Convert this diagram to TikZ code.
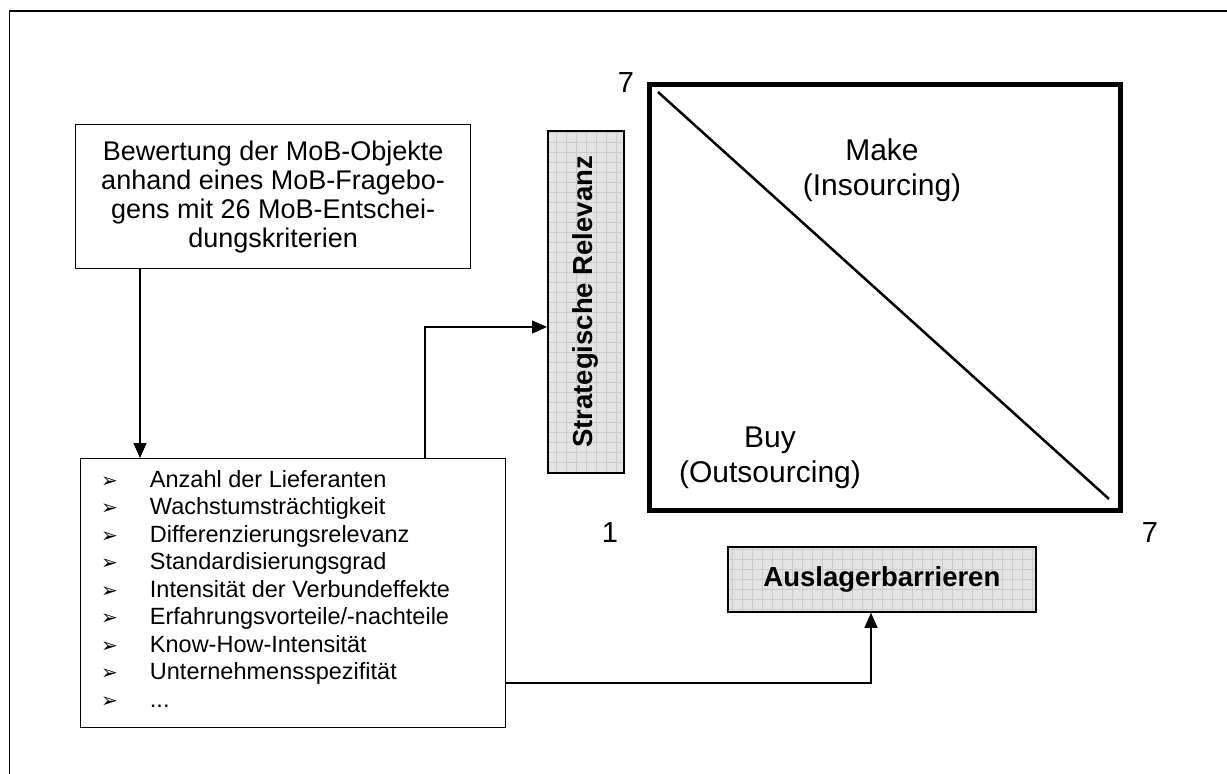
\documentclass[tikz,border=0pt]{standalone}
\usepackage{fontspec}
\setmainfont{Liberation Sans}
\newfontfamily\dejavu{DejaVu Sans}
\usetikzlibrary{arrows.meta}
\tikzset{
  box/.style={draw=black, line width=1.2pt, fill=white, inner sep=0pt, anchor=north west},
  graybox/.style={draw=black, line width=1.8pt, fill=gray!22, inner sep=0pt, anchor=north west,
    path picture={\draw[gray!40, line width=0.5pt, step=10pt] (path picture bounding box.south west) grid (path picture bounding box.north east);}},
  conn/.style={draw=black, line width=1.2pt, -{Triangle[length=15pt,width=13pt]}},
  lbl/.style={inner sep=0pt, font=\fontsize{29}{35}\selectfont},
  bold/.style={inner sep=0pt, font=\bfseries\fontsize{27.5}{32}\selectfont},
}
\newcommand{\bl}{{\dejavu\fontsize{20}{27.5}\selectfont ➢}}
\begin{document}
\begin{tikzpicture}[x=1pt,y=-1pt]
\useasboundingbox (0,0) rectangle (1227,774);
% frame
\coordinate (fbl) at (9.5,774);
\coordinate (ftl) at (9.5,11);
\coordinate (ftr) at (1227,11);
\draw[line width=1.5pt] (fbl) -- (ftl) -- (ftr);
% top-left box
\node[box, minimum width=395pt, minimum height=144pt] (top) at (75,124) {};
\node[inner sep=0pt, align=center, font=\fontsize{27}{29}\selectfont] (toptxt) at (top.center)
  {Bewertung der MoB-Objekte\\anhand eines MoB-Fragebo-\\gens mit 26 MoB-Entschei-\\dungskriterien};
% bottom-left box
\node[box, minimum width=425pt, minimum height=269pt] (list) at (80,458) {};
\node[inner sep=0pt, anchor=north west, font=\fontsize{23.5}{27.5}\selectfont] (listtxt) at (101,468)
  {\begin{tabular}{@{}l@{\hspace{32pt}}l@{}}
  \bl & Anzahl der Lieferanten\\
  \bl & Wachstumsträchtigkeit\\
  \bl & Differenzierungsrelevanz\\
  \bl & Standardisierungsgrad\\
  \bl & Intensität der Verbundeffekte\\
  \bl & Erfahrungsvorteile/-nachteile\\
  \bl & Know-How-Intensität\\
  \bl & Unternehmensspezifität\\
  \bl & ...
  \end{tabular}};
% matrix square
\node[draw=black, line width=4.5pt, inner sep=0pt, anchor=north west, minimum width=471pt, minimum height=426pt] (sq) at (647,82) {};
\coordinate (d1) at (658,92);
\coordinate (d2) at (1109,499);
\draw[line width=2.5pt] (d1) -- (d2);
\node[lbl, align=center, font=\fontsize{30}{35}\selectfont] (make) at (882,170) {Make\\(Insourcing)};
\node[lbl, align=center, font=\fontsize{30}{35}\selectfont] (buy) at (770,458) {Buy\\(Outsourcing)};
\node[lbl] (s7) at (626,83) {7};
\node[lbl] (s1) at (610,533) {1};
\node[lbl] (e7) at (1150,533) {7};
% gray boxes
\node[graybox, minimum width=76pt, minimum height=342pt] (sr) at (547,130) {};
\node[bold, rotate=90] (srtxt) at (sr.center) {Strategische Relevanz};
\node[graybox, minimum width=308pt, minimum height=65pt] (ab) at (727,546) {};
\node[bold] (abtxt) at (ab.center) {Auslagerbarrieren};
% connectors
\draw[conn] (top.south -| 140,0) -- (list.north -| 140,0);
\coordinate (c1) at (425,327);
\draw[conn] (list.north -| c1) -- (c1) -- (sr.west |- c1);
\coordinate (c2) at (871,683);
\draw[conn] (list.east |- c2) -- (c2) -- (ab.south -| c2);
\end{tikzpicture}
\end{document}
